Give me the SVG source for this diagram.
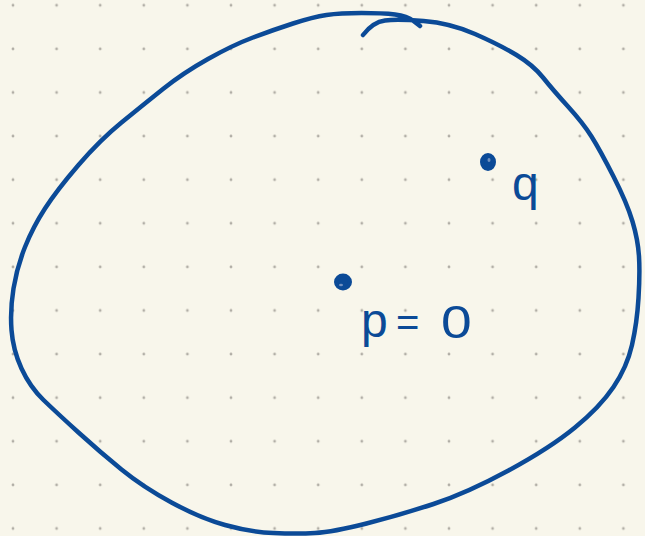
<svg xmlns="http://www.w3.org/2000/svg" width="645" height="536" viewBox="0 0 645 536">
  <defs>
    <pattern id="dotgrid" x="13" y="5.3" width="43.6" height="43.6" patternUnits="userSpaceOnUse">
      <circle cx="0" cy="0" r="1.4" fill="#b1aea6"/>
      <circle cx="43.6" cy="0" r="1.4" fill="#b1aea6"/>
      <circle cx="0" cy="43.6" r="1.4" fill="#b1aea6"/>
      <circle cx="43.6" cy="43.6" r="1.4" fill="#b1aea6"/>
    </pattern>
  </defs>
  <style>
    .ink { fill: none; stroke: #0b4a97; stroke-width: 4.5; stroke-linecap: round; stroke-linejoin: round; }
    .dot { fill: #0b4a97; stroke: #0b4a97; stroke-width: 4; }
    .hole { fill: #6f8fbf; }
    .label { fill: #0b4a97; font-family: "Liberation Sans", Arial, sans-serif; }
  </style>
  <rect x="0" y="0" width="645" height="536" fill="#f8f6eb"/>
  <rect x="0" y="0" width="645" height="536" fill="url(#dotgrid)"/>

  <g id="region">
    <path class="ink" d="M420,26 L413.5,21 Q407,16 395,14.5 Q383,13 361.5,13 Q340,13 326.5,15 Q313,17 293,23.5 Q273,30 253,37.5 Q233,45 208,59 Q183,73 163,89 Q143,105 121.5,122.5 Q100,140 78.5,165 Q57,190 45,208.5 Q33,227 25,247 Q17,267 13.5,288.5 Q10,310 11.5,330 Q13,350 21.5,368.5 Q30,387 43.5,400 Q57,413 78.5,432.5 Q100,452 121.5,469.5 Q143,487 171.5,502.5 Q200,518 225,525 Q250,532 273.5,533 Q297,534 315,533 Q333,532 366.5,523.5 Q400,515 433.5,504 Q467,493 508.5,470.5 Q550,448 575,427.5 Q600,407 613.5,387 Q627,367 632,345 Q637,323 638.5,298 Q640,273 639,256.5 Q638,240 632.5,221.5 Q627,203 613.5,176.5 Q600,150 591.5,136.5 Q583,123 568,106.5 Q553,90 543,77.5 Q533,65 516.5,55 Q500,45 475,34 Q450,23 423.5,21 Q397,19 385,20.5 Q373,22 363,35"/>
  </g>

  <g id="point-q">
    <ellipse class="dot" cx="488" cy="162" rx="6" ry="7"/>
    <ellipse class="hole" cx="489" cy="160" rx="1.5" ry="2"/>
    <text class="label" x="512" y="200" font-size="48">q</text>
  </g>

  <g id="point-p">
    <ellipse class="dot" cx="343" cy="282" rx="7" ry="6.5"/>
    <ellipse class="hole" cx="341" cy="285" rx="2" ry="1.3"/>
    <text class="label" x="361" y="337" font-size="48">p</text>
    <text class="label" x="396" y="336" font-size="40">=</text>
    <text class="label" transform="translate(441,338) scale(1.2,1)" x="0" y="0" font-size="46">0</text>
  </g>

  <g id="connectors"/>
</svg>
